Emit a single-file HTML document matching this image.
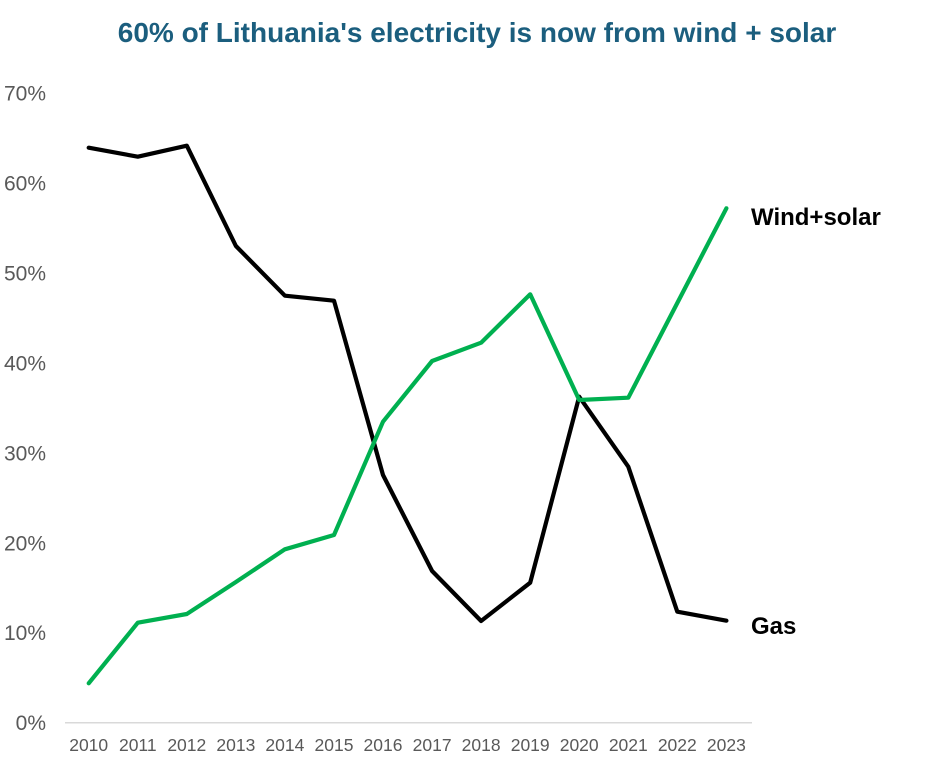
<!DOCTYPE html>
<html>
<head>
<meta charset="utf-8">
<style>
  html, body { margin: 0; padding: 0; background: #ffffff; }
  body { width: 950px; height: 772px; overflow: hidden; }
  svg { display: block; }
  text { font-family: "Liberation Sans", Arial, sans-serif; }
</style>
</head>
<body>
<svg width="950" height="772" viewBox="0 0 950 772" xmlns="http://www.w3.org/2000/svg">
  <rect x="0" y="0" width="950" height="772" fill="#ffffff"/>

  <!-- Title -->
  <text x="477" y="42" text-anchor="middle" font-size="28" font-weight="bold" fill="#1b5e7e">60% of Lithuania's electricity is now from wind + solar</text>

  <!-- Y axis labels -->
  <g font-size="21" fill="#595959" text-anchor="end">
    <text x="46" y="100.7">70%</text>
    <text x="46" y="190.6">60%</text>
    <text x="46" y="280.5">50%</text>
    <text x="46" y="370.5">40%</text>
    <text x="46" y="460.4">30%</text>
    <text x="46" y="550.3">20%</text>
    <text x="46" y="640.2">10%</text>
    <text x="46" y="730.2">0%</text>
  </g>

  <!-- X axis line -->
  <line x1="65" y1="722.7" x2="752" y2="722.7" stroke="#d9d9d9" stroke-width="1.5"/>

  <!-- X axis labels -->
  <g font-size="17.5" fill="#595959" text-anchor="middle">
    <text x="88.7" y="751">2010</text>
    <text x="137.8" y="751">2011</text>
    <text x="186.8" y="751">2012</text>
    <text x="235.9" y="751">2013</text>
    <text x="284.9" y="751">2014</text>
    <text x="334.0" y="751">2015</text>
    <text x="383.0" y="751">2016</text>
    <text x="432.1" y="751">2017</text>
    <text x="481.1" y="751">2018</text>
    <text x="530.2" y="751">2019</text>
    <text x="579.2" y="751">2020</text>
    <text x="628.3" y="751">2021</text>
    <text x="677.3" y="751">2022</text>
    <text x="726.4" y="751">2023</text>
  </g>

  <!-- Gas series -->
  <polyline fill="none" stroke="#000000" stroke-width="4.2" stroke-linejoin="round" stroke-linecap="round"
    points="88.7,147.7 137.8,156.7 186.8,145.7 235.9,246 284.9,295.7 334.0,300.7 383.0,475 432.1,571 481.1,621 530.2,582.7 579.2,396.7 628.3,466.7 677.3,611.7 726.4,620.7"/>

  <!-- Wind+solar series -->
  <polyline fill="none" stroke="#00b050" stroke-width="4.2" stroke-linejoin="round" stroke-linecap="round"
    points="88.7,683.3 137.8,622.7 186.8,614 235.9,582 284.9,549.3 334.0,535 383.0,421.7 432.1,361 481.1,342.7 530.2,294.3 579.2,400 628.3,397.7 677.3,303 726.4,208.3"/>

  <!-- Series labels -->
  <text x="751" y="225" font-size="24" font-weight="bold" fill="#000000">Wind+solar</text>
  <text x="751" y="634" font-size="24" font-weight="bold" fill="#000000">Gas</text>
</svg>
</body>
</html>
